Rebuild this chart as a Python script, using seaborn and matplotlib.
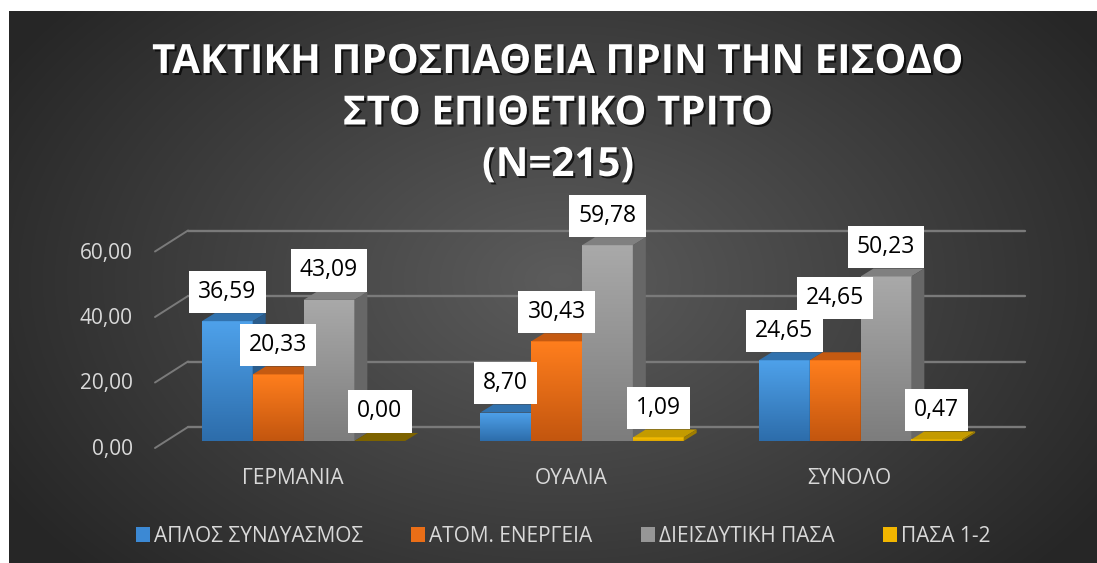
import numpy as np
import pandas as pd
import matplotlib
matplotlib.use('Agg')
import matplotlib.pyplot as plt
import matplotlib.transforms as mtransforms
import seaborn as sns
from matplotlib.patches import Polygon, Patch
from matplotlib.colors import LinearSegmentedColormap
from matplotlib import patheffects as pe

# data
categories = ['ΓΕΡΜΑΝΙΑ', 'ΟΥΑΛΙΑ', 'ΣΥΝΟΛΟ']
series = ['ΑΠΛΟΣ ΣΥΝΔΥΑΣΜΟΣ', 'ΑΤΟΜ. ΕΝΕΡΓΕΙΑ', 'ΔΙΕΙΣΔΥΤΙΚΗ ΠΑΣΑ', 'ΠΑΣΑ 1-2']
aplos = [36.59, 8.70, 24.65]
atom = [20.33, 30.43, 24.65]
dieisdytiki = [43.09, 59.78, 50.23]
pasa12 = [0.00, 1.09, 0.47]
yticks = [0, 20, 40, 60]
title_lines = ['ΤΑΚΤΙΚΗ ΠΡΟΣΠΑΘΕΙΑ ΠΡΙΝ ΤΗΝ ΕΙΣΟΔΟ', 'ΣΤΟ ΕΠΙΘΕΤΙΚΟ ΤΡΙΤΟ', '(N=215)']

rows = []
for s, vals in zip(series, [aplos, atom, dieisdytiki, pasa12]):
    for c, v in zip(categories, vals):
        rows.append((c, s, v))
df = pd.DataFrame(rows, columns=['cat', 'series', 'val'])

# colours
front_top = ['#4ea1ea', '#ff7e1d', '#a9a9a9', '#ffc400']
front_bot = ['#2d6dab', '#c3560f', '#7d7d7d', '#dca600']
top_col = ['#3172ae', '#c55a11', '#808080', '#c49b00']
side_col = ['#2a5c8c', '#a84c0e', '#676767', '#9f7d00']
legend_col = ['#3c89d4', '#ea6e17', '#969696', '#f2b600']
txt_col = '#d9d9d9'
grid_col = '#7a7a7a'

# label that was pushed up in the original (series idx, category idx) -> extra px
label_nudge = {(1, 2): 33}

sns.set_style('white')
plt.rcParams['font.family'] = ['Open Sans', 'DejaVu Sans']

W, H = 1097, 563
ppc = 278.5      # pixels per category
ppu = 3.275      # pixels per value unit
x_left = 164.25
base = 441.0
ylo, yhi = -5, 70

fig = plt.figure(figsize=(W / 100, H / 100), dpi=100)
fig.patch.set_facecolor('white')

# dark radial background
bg = fig.add_axes([9 / W, 0, 1 - 9 / W, 1 - 11 / H], zorder=-10)
yy, xx = np.mgrid[0:H - 11, 0:W - 9]
X, Y = xx + 9, yy + 11
d = np.sqrt(((X - 560) / 650) ** 2 + ((Y - 280) / 430) ** 2)
t = np.clip(d, 0, 1)[..., None]
c0 = np.array([0x5c, 0x5c, 0x5c]) / 255
c1 = np.array([0x26, 0x26, 0x26]) / 255
bg.imshow(c0 * (1 - t) + c1 * t, extent=[0, 1, 0, 1], aspect='auto', origin='upper')
bg.set_xlim(0, 1)
bg.set_ylim(0, 1)
bg.axis('off')

ax = fig.add_axes([x_left / W, (H - (base - ylo * ppu)) / H, 3 * ppc / W, (yhi - ylo) * ppu / H])
ax.patch.set_alpha(0)

sns.barplot(data=df, x='cat', y='val', hue='series', order=categories, hue_order=series,
            palette=front_top, width=0.73, saturation=1, errorbar=None, legend=False, ax=ax)

ddx = 13 / ppc
ddy = 8 / ppu

# back wall gridlines + slanted ticks
gx0 = -0.5 + (188 - x_left) / ppc
gx1 = -0.5 + (1025 - x_left) / ppc
fx0 = -0.5 + (155 - x_left) / ppc
for v in yticks:
    ax.plot([gx0, gx1], [v + 14 / ppu, v + 14 / ppu], color=grid_col, lw=1.7, zorder=1, clip_on=False)
    ax.plot([fx0, gx0], [v - 7 / ppu, v + 14 / ppu], color=grid_col, lw=1.4, zorder=1, clip_on=False)

for si, cont in enumerate(ax.containers):
    cmap = LinearSegmentedColormap.from_list('g%d' % si, [front_bot[si], front_top[si]])
    for ci, bar in enumerate(cont):
        x0, w, h = bar.get_x(), bar.get_width(), bar.get_height()
        z = 5 + (x0 + 0.5) * 3
        bar.set_facecolor('none')
        bar.set_edgecolor('none')
        if h > 0:
            im = ax.imshow(np.linspace(0, 1, 64)[:, None], extent=[x0, x0 + w, 0, h], origin='lower',
                           aspect='auto', cmap=cmap, zorder=z, interpolation='bilinear')
            im.set_clip_path(bar)
        tc = top_col[si] if h > 0 else '#7d6300'
        ax.add_patch(Polygon([(x0, h), (x0 + w, h), (x0 + w + ddx, h + ddy), (x0 + ddx, h + ddy)],
                             closed=True, fc=tc, ec='none', zorder=z + 0.1, clip_on=False))
        ax.add_patch(Polygon([(x0 + w, 0), (x0 + w + ddx, ddy), (x0 + w + ddx, h + ddy), (x0 + w, h)],
                             closed=True, fc=side_col[si], ec='none', zorder=z + 0.1, clip_on=False))
        lab = ('%.2f' % h).replace('.', ',')
        off = (29.5 + label_nudge.get((si, ci), 0)) * 0.72
        ax.annotate(lab, xy=(x0 + w / 2, h), xytext=(0, off), textcoords='offset points',
                    ha='center', va='center', fontsize=16.5, color='black', zorder=30 + si,
                    bbox=dict(boxstyle='square,pad=0.4', fc='white', ec='none'))

ax.set_xlim(-0.5, 2.5)
ax.set_ylim(ylo, yhi)
ax.set_xticks([])
ax.set_yticks([])
ax.set_xlabel('')
ax.set_ylabel('')
for sp in ax.spines.values():
    sp.set_visible(False)

# value axis labels
ytr = mtransforms.blended_transform_factory(fig.transFigure, ax.transData) + \
    mtransforms.ScaledTranslation(0, -14 / 100, fig.dpi_scale_trans)
for v in yticks:
    fig.text(133 / W, v, ('%.2f' % v).replace('.', ','), transform=ytr, ha='right', va='baseline',
             fontsize=15, color=txt_col)

# category labels
xtr = mtransforms.blended_transform_factory(ax.transData, fig.transFigure) + \
    mtransforms.ScaledTranslation(-11 / 100, 0, fig.dpi_scale_trans)
for i, c in enumerate(categories):
    ax.text(i, 1 - 484 / H, c, transform=xtr, ha='center', va='baseline', fontsize=15, color=txt_col)

# title
for i, line in enumerate(title_lines):
    fig.text(558 / W, 1 - (73 + 51.5 * i) / H, line, ha='center', va='baseline', fontsize=29,
             weight='bold', color='white',
             path_effects=[pe.withSimplePatchShadow(offset=(1.5, -1.5), shadow_rgbFace='black', alpha=0.7)])

handles = [Patch(fc=c, ec='none') for c in legend_col]
fig.legend(handles, series, loc='center', bbox_to_anchor=(563 / W, 1 - 536 / H), ncol=4, frameon=False,
           fontsize=15, labelcolor=txt_col, handlelength=0.68, handleheight=0.72, handletextpad=0.2,
           columnspacing=2.3)

fig.savefig('out.png', dpi=100)
